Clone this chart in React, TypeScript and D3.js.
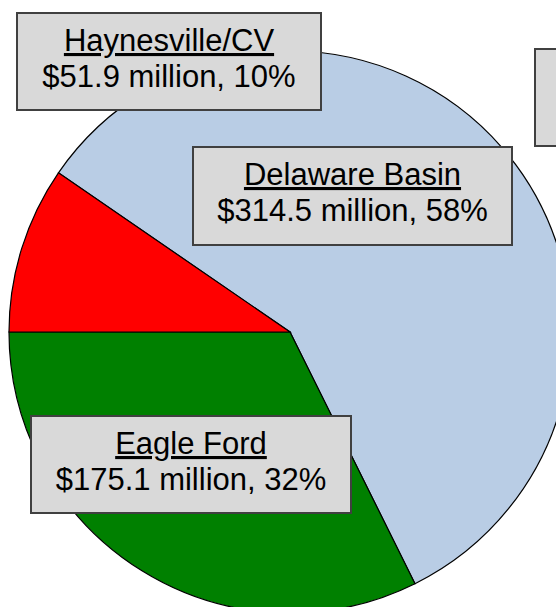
import React, { useEffect, useRef } from 'react';
import * as d3 from 'd3';

const regions = ['Delaware Basin', 'Eagle Ford', 'Haynesville/CV'];
const values = [314.5, 175.1, 51.9];
const shares = ['58%', '32%', '10%'];
const colors = ['#b9cde5', '#008000', '#ff0000'];

// label boxes: [x, y, w, h]
const boxes: [number, number, number, number][] = [
  [193, 147, 319, 98],
  [31, 416, 320, 97],
  [17, 13, 304, 97],
];

const App = () => {
  const ref = useRef<SVGSVGElement>(null);

  useEffect(() => {
    const svg = d3.select(ref.current);
    svg.selectAll('*').remove();

    const cx = 290;
    const cy = 332;
    const r = 281;
    const total = d3.sum(values);

    // Eagle Ford / Haynesville boundary sits at 9 o'clock
    const start = 1.5 * Math.PI - ((values[0] + values[1]) / total) * 2 * Math.PI;

    const pie = d3
      .pie<number>()
      .sort(null)
      .startAngle(start)
      .endAngle(start + 2 * Math.PI);

    const arc = d3.arc<d3.PieArcDatum<number>>().innerRadius(0).outerRadius(r);

    const g = svg.append('g').attr('transform', `translate(${cx},${cy})`);
    g.selectAll('path')
      .data(pie(values))
      .join('path')
      .attr('d', arc)
      .attr('fill', (_, i) => colors[i])
      .attr('stroke', '#000')
      .attr('stroke-width', 1.2);

    // partial box at the right edge (rest is off the canvas)
    svg
      .append('rect')
      .attr('x', 535)
      .attr('y', 49)
      .attr('width', 120)
      .attr('height', 97)
      .attr('fill', '#d9d9d9')
      .attr('stroke', '#404040')
      .attr('stroke-width', 2);

    regions.forEach((name, i) => {
      const [x, y, w, h] = boxes[i];
      const lg = svg.append('g');
      lg.append('rect')
        .attr('x', x)
        .attr('y', y)
        .attr('width', w)
        .attr('height', h)
        .attr('fill', '#d9d9d9')
        .attr('stroke', '#404040')
        .attr('stroke-width', 2);
      const t = lg
        .append('text')
        .attr('x', x + w / 2)
        .attr('text-anchor', 'middle')
        .attr('font-family', 'Liberation Sans, Arial, sans-serif')
        .attr('font-size', 31)
        .attr('fill', '#000');
      t.append('tspan')
        .attr('x', x + w / 2)
        .attr('y', y + 38)
        .attr('text-decoration', 'underline')
        .text(name);
      t.append('tspan')
        .attr('x', x + w / 2)
        .attr('y', y + 74)
        .text(`$${values[i]} million, ${shares[i]}`);
    });
  }, []);

  return (
    <svg
      ref={ref}
      width={556}
      height={607}
      style={{ position: 'absolute', left: 0, top: 0, background: '#fff' }}
    />
  );
};

export default App;
